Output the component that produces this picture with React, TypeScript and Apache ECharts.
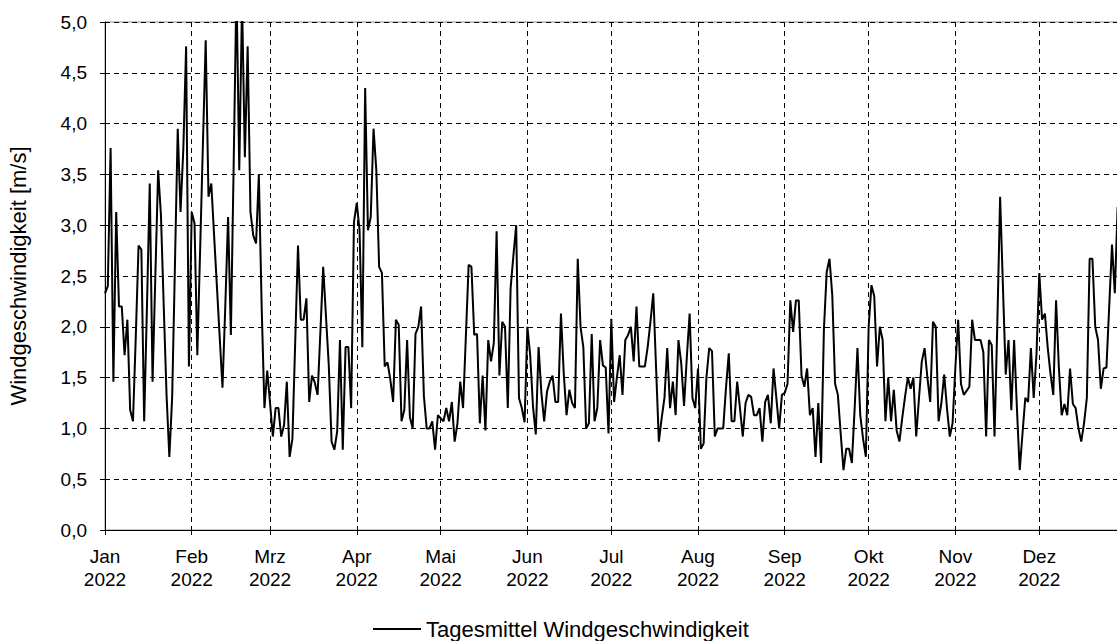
import React, { useEffect, useRef } from "react";
import * as echarts from "echarts";

// Daily means of wind speed [m/s], 2022 (index 0 = 1 Jan)
const jan = [2.33, 2.4, 3.76, 1.46, 3.13, 2.2, 2.2, 1.72, 2.07, 1.18, 1.07, 1.9, 2.8, 2.76, 1.07, 2.2, 3.41, 1.46, 2.5, 3.54, 3.1, 2.2, 1.33, 0.72, 1.3, 2.6, 3.95, 3.13, 3.75, 4.76, 1.61];
const feb = [3.13, 3.02, 1.72, 2.75, 3.8, 4.82, 3.28, 3.41, 2.9, 2.4, 1.9, 1.4, 2.2, 3.08, 1.92, 3.6, 5.35, 3.54, 5.2, 3.67, 4.76, 3.13, 2.9, 2.82, 3.5, 2.2, 1.2, 1.57];
const mar = [1.25, 0.92, 1.2, 1.2, 0.92, 1.03, 1.46, 0.72, 0.9, 1.85, 2.8, 2.07, 2.07, 2.28, 1.26, 1.52, 1.45, 1.33, 1.95, 2.59, 2.1, 1.62, 0.87, 0.79, 0.97, 1.87, 0.79, 1.8, 1.8, 1.2, 3.03];
const apr = [3.22, 2.95, 1.8, 4.35, 2.95, 3.08, 3.95, 3.54, 2.59, 2.53, 1.61, 1.65, 1.48, 1.26, 2.07, 2.02, 1.07, 1.18, 1.87, 1.11, 1.0, 1.93, 2.0, 2.2, 1.32, 1.0, 1.0, 1.07, 0.79, 1.13];
const may = [1.1, 1.07, 1.2, 1.07, 1.26, 0.87, 1.05, 1.46, 1.2, 1.9, 2.61, 2.59, 1.92, 1.93, 1.05, 1.52, 0.98, 1.87, 1.66, 1.84, 2.94, 1.52, 2.05, 2.0, 1.2, 2.38, 2.7, 3.0, 1.3, 1.2, 1.06];
const jun = [2.0, 1.72, 1.22, 0.94, 1.8, 1.35, 1.07, 1.36, 1.46, 1.52, 1.26, 1.26, 2.13, 1.54, 1.13, 1.38, 1.25, 1.2, 2.67, 2.0, 1.8, 1.0, 1.05, 1.93, 1.07, 1.2, 1.87, 1.62, 1.6, 0.95];
const jul = [2.08, 1.26, 1.5, 1.72, 1.33, 1.87, 1.92, 2.0, 1.66, 2.2, 1.61, 1.61, 1.61, 1.8, 2.05, 2.33, 1.6, 0.87, 1.1, 1.3, 1.79, 1.2, 1.46, 1.13, 1.87, 1.64, 1.22, 1.7, 2.13, 1.3, 1.2];
const aug = [1.59, 0.8, 0.85, 1.5, 1.79, 1.76, 0.92, 1.0, 1.0, 1.0, 1.4, 1.74, 1.07, 1.07, 1.46, 1.2, 0.92, 1.25, 1.33, 1.31, 1.13, 1.13, 1.2, 0.87, 1.26, 1.33, 1.05, 1.59, 1.3, 1.0, 1.33];
const sep = [1.35, 1.44, 2.26, 1.95, 2.26, 2.26, 1.52, 1.41, 1.59, 1.13, 1.2, 0.72, 1.25, 0.66, 1.97, 2.54, 2.67, 2.31, 1.44, 1.33, 0.95, 0.59, 0.8, 0.8, 0.66, 1.2, 1.79, 1.13, 0.9, 0.72];
const oct = [2.0, 2.41, 2.3, 1.61, 2.0, 1.87, 1.07, 1.5, 1.07, 1.38, 0.98, 0.87, 1.1, 1.31, 1.5, 1.39, 1.5, 0.92, 1.3, 1.66, 1.79, 1.5, 1.26, 2.05, 2.0, 1.07, 1.25, 1.53, 1.2, 0.92, 1.05];
const nov = [1.6, 2.07, 1.44, 1.33, 1.37, 1.41, 2.07, 1.87, 1.87, 1.87, 1.75, 0.92, 1.87, 1.82, 0.92, 2.03, 3.28, 2.4, 1.53, 1.87, 1.18, 1.87, 1.2, 0.59, 0.95, 1.3, 1.26, 1.79, 1.3, 1.73];
const dec = [2.53, 2.07, 2.13, 1.8, 1.54, 1.33, 2.26, 1.6, 1.13, 1.24, 1.13, 1.59, 1.24, 1.2, 1.0, 0.87, 1.05, 1.3, 2.67, 2.67, 2.0, 1.87, 1.39, 1.59, 1.6, 2.2, 2.81, 2.33, 3.18];

const monthStarts = [0, 31, 59, 90, 120, 151, 181, 212, 243, 273, 304, 334];
const monthLabels = ["Jan", "Feb", "Mrz", "Apr", "Mai", "Jun", "Jul", "Aug", "Sep", "Okt", "Nov", "Dez"];
const yearLabel = "2022";
const seriesName = "Tagesmittel Windgeschwindigkeit";
const yAxisTitle = "Windgeschwindigkeit [m/s]";

const FONT = "'Liberation Sans', Arial, sans-serif";

export default function App() {
  const ref = useRef<HTMLDivElement>(null);
  useEffect(() => {
    if (!ref.current) return;
    const chart = echarts.init(ref.current, undefined, { renderer: "svg" });
    const values = [...jan, ...feb, ...mar, ...apr, ...may, ...jun, ...jul, ...aug, ...sep, ...oct, ...nov, ...dec];
    const data = values.map((v, i) => [i, v]);
    chart.setOption({
      animation: false,
      backgroundColor: "#fff",
      textStyle: { fontFamily: FONT },
      grid: {
        left: 105,
        top: 22,
        right: -9,
        bottom: 111,
        outerBoundsMode: "none",
        containLabel: false,
        show: true,
        borderColor: "#8c8c8c",
        borderWidth: 1,
      },
      legend: {
        left: 368,
        top: 613,
        icon: "rect",
        itemWidth: 48,
        itemHeight: 2,
        itemGap: 10,
        textStyle: { fontFamily: FONT, fontSize: 22, color: "#000" },
        data: [{ name: seriesName }],
      },
      xAxis: {
        type: "value",
        min: 0,
        max: 365,
        axisLine: { show: true, lineStyle: { color: "#000", width: 1 } },
        axisTick: { show: true, customValues: monthStarts, length: 5, lineStyle: { color: "#000" } },
        splitLine: { show: true, lineStyle: { color: "#000", type: [5, 4], width: 1 } },
        axisLabel: {
          customValues: monthStarts,
          fontFamily: FONT,
          fontSize: 19,
          color: "#000",
          lineHeight: 23,
          margin: 15,
          formatter: (v: number) => {
            const k = monthStarts.indexOf(Math.round(v));
            return k >= 0 ? monthLabels[k] + "\n" + yearLabel : "";
          },
        },
      },
      yAxis: {
        type: "value",
        min: 0,
        max: 5,
        interval: 0.5,
        name: yAxisTitle,
        nameLocation: "middle",
        nameGap: 76,
        nameRotate: 90,
        nameTextStyle: { fontFamily: FONT, fontSize: 22, color: "#000" },
        axisLine: { show: true, lineStyle: { color: "#000", width: 1 } },
        axisTick: { show: true, length: 5, lineStyle: { color: "#000" } },
        splitLine: { show: true, lineStyle: { color: "#000", type: [5, 4], width: 1 } },
        axisLabel: {
          fontFamily: FONT,
          fontSize: 19,
          color: "#000",
          margin: 18,
          formatter: (v: number) => v.toFixed(1).replace(".", ","),
        },
      },
      series: [
        {
          name: seriesName,
          type: "line",
          data,
          symbol: "none",
          clip: true,
          lineStyle: { color: "#000", width: 2 },
          itemStyle: { color: "#000" },
        },
      ],
    });
    return () => chart.dispose();
  }, []);
  return <div ref={ref} style={{ position: "fixed", left: 0, top: 0, width: 1117, height: 641 }} />;
}
